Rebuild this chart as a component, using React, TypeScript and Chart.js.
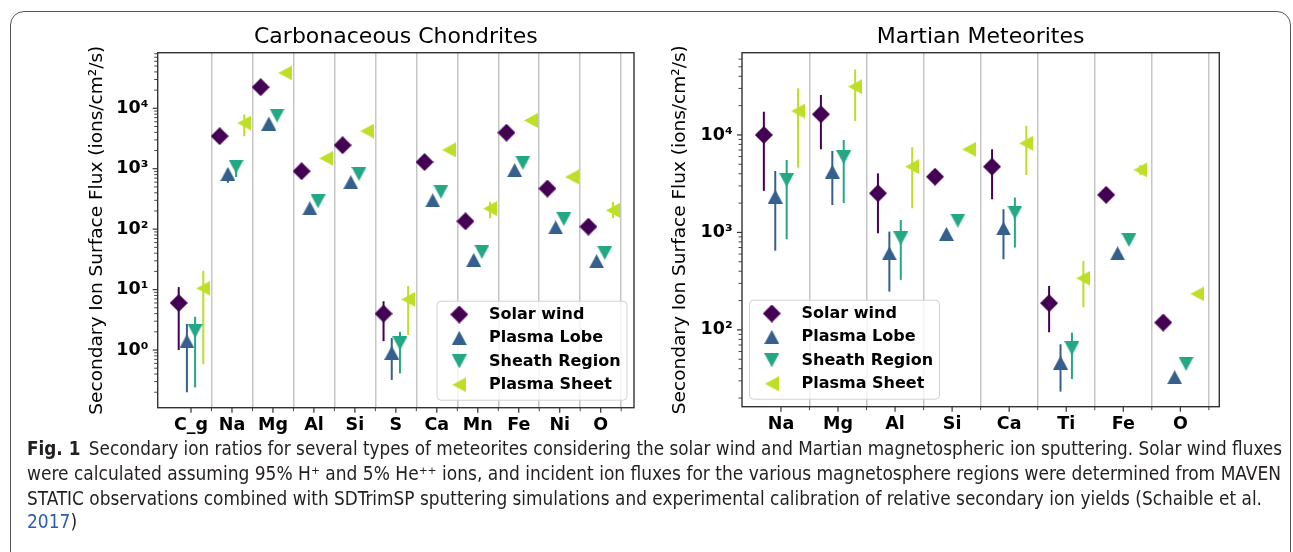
import React, { useEffect, useLayoutEffect, useRef } from 'react';
import { Chart, registerables } from 'chart.js';

Chart.register(...registerables);

// ---------------- DATA ----------------
const SERIES_NAMES = ['Solar wind', 'Plasma Lobe', 'Sheath Region', 'Plasma Sheet'];
const SERIES_COLORS = ['#440154', '#35608d', '#22a884', '#bddf26'];
const SERIES_MARKERS = ['diamond', 'up', 'down', 'left'];
const SERIES_OFFSETS = [-0.3, -0.1, 0.1, 0.3];

// Carbonaceous Chondrites
const ccCategories = ['C_g', 'Na', 'Mg', 'Al', 'Si', 'S', 'Ca', 'Mn', 'Fe', 'Ni', 'O'];
const ccSolarWind = [6.0, 3460, 22400, 910, 2450, 4.0, 1290, 135, 3950, 470, 110];
const ccPlasmaLobe = [1.4, 820, 5600, 222, 600, 0.9, 300, 31, 950, 107, 29.5];
const ccSheathRegion = [2.06, 1080, 7600, 290, 820, 1.29, 416, 42, 1250, 147, 40.5];
const ccPlasmaSheet = [10.5, 5700, 38500, 1490, 4200, 6.9, 2050, 219, 6300, 730, 205];
const ccSolarWindErr = [[1.0, 11], null, null, null, null, [1.4, 6.4], null, null, null, null, null];
const ccPlasmaLobeErr = [[0.2, 2.7], [585, 1000], null, null, null, [0.32, 1.58], null, [24.5, 36], null, null, null];
const ccSheathRegionErr = [[0.24, 3.55], [730, 1380], null, null, null, [0.41, 2.0], null, null, null, null, null];
const ccPlasmaSheetErr = [[0.58, 20.5], [3460, 7900], null, null, null, [1.77, 11.5], null, [152, 283], null, null, [152, 283]];
const ccYTickValues = [1, 10, 100, 1000, 10000];
const ccYTickLabels = ['10⁰', '10¹', '10²', '10³', '10⁴'];

// Martian Meteorites
const mmCategories = ['Na', 'Mg', 'Al', 'Si', 'Ca', 'Ti', 'Fe', 'O'];
const mmSolarWind = [10000, 16300, 2520, 3730, 4730, 188, 2430, 119];
const mmPlasmaLobe = [2330, 4200, 611, 966, 1100, 46.2, 611, 32.7];
const mmSheathRegion = [3450, 5900, 871, 1320, 1600, 64.9, 837, 44.8];
const mmPlasmaSheet = [17600, 31300, 4730, 7130, 8220, 339, 4380, 234];
const mmSolarWindErr = [[2670, 17300], [7130, 25700], [980, 4040], null, [2190, 7130], [94.6, 282], null, null];
const mmPlasmaLobeErr = [[650, 4270], [1910, 6850], [247, 1020], null, [531, 1730], [23.3, 71.3], null, null];
const mmSheathRegionErr = [[850, 5540], [2000, 8880], [326, 1340], null, [700, 2280], [31.4, 93.8], null, null];
const mmPlasmaSheetErr = [[4620, 30100], [13900, 47000], [1770, 7480], null, [3890, 12400], [171, 510], [3900, 4900], null];
const mmYTickValues = [100, 1000, 10000];
const mmYTickLabels = ['10²', '10³', '10⁴'];

const Y_TITLE = 'Secondary Ion Surface Flux (ions/cm²/s)';

const CAPTION_LINES = [
  'Secondary ion ratios for several types of meteorites considering the solar wind and Martian magnetospheric ion sputtering. Solar wind fluxes',
  'were calculated assuming 95% H⁺ and 5% He⁺⁺ ions, and incident ion fluxes for the various magnetosphere regions were determined from MAVEN',
  'STATIC observations combined with SDTrimSP sputtering simulations and experimental calibration of relative secondary ion yields (Schaible et al.',
  '2017)',
];

// ---------------- STYLE ----------------
const FONT = "'DejaVu Sans', sans-serif";
const SPINE = '#333333';

function makeMarker(kind: string, color: string) {
  const c = document.createElement('canvas');
  let w = 18, h = 18;
  let pts: number[][] = [];
  if (kind === 'diamond') { w = 18; h = 18; pts = [[9, 0], [18, 9], [9, 18], [0, 9]]; }
  else if (kind === 'up') { w = 15; h = 14; pts = [[7.5, 0], [15, 14], [0, 14]]; }
  else if (kind === 'down') { w = 15; h = 14; pts = [[0, 0], [15, 0], [7.5, 14]]; }
  else { w = 14; h = 15; pts = [[0, 7.5], [14, 0], [14, 15]]; }
  c.width = w; c.height = h;
  const ctx = c.getContext('2d')!;
  ctx.fillStyle = color;
  ctx.beginPath();
  pts.forEach(([x, y], i) => (i ? ctx.lineTo(x, y) : ctx.moveTo(x, y)));
  ctx.closePath();
  ctx.fill();
  return c;
}

function isPow10(v: number) {
  const l = Math.log10(v);
  return Math.abs(l - Math.round(l)) < 1e-9;
}

function logTicks(min: number, max: number) {
  const out: any[] = [];
  for (let k = Math.floor(Math.log10(min)); k <= Math.ceil(Math.log10(max)); k++) {
    for (let m = 1; m <= 9; m++) {
      const v = m * Math.pow(10, k);
      if (v >= min * 0.9999 && v <= max * 1.0001) out.push({ value: v, major: m === 1 });
    }
  }
  return out;
}

const errorBarPlugin = {
  id: 'errorBars',
  beforeDatasetsDraw(chart: any) {
    const { ctx } = chart;
    const y = chart.scales.y;
    chart.data.datasets.forEach((ds: any, i: number) => {
      const meta = chart.getDatasetMeta(i);
      ctx.save();
      ctx.strokeStyle = ds.errColor;
      ctx.lineWidth = 2;
      (ds.errors || []).forEach((e: any, j: number) => {
        if (!e) return;
        const pt = meta.data[j];
        ctx.beginPath();
        ctx.moveTo(pt.x, y.getPixelForValue(e[0]));
        ctx.lineTo(pt.x, y.getPixelForValue(e[1]));
        ctx.stroke();
      });
      ctx.restore();
    });
  },
};

const framePlugin = {
  id: 'frame',
  afterDatasetsDraw(chart: any) {
    const { ctx, chartArea: a } = chart;
    const { x, y } = chart.scales;
    ctx.save();
    ctx.strokeStyle = SPINE;
    y.ticks.forEach((t: any) => {
      const p = y.getPixelForValue(t.value);
      const major = isPow10(t.value);
      ctx.lineWidth = major ? 1.2 : 0.9;
      ctx.beginPath();
      ctx.moveTo(a.left - (major ? 5 : 3.5), p);
      ctx.lineTo(a.left, p);
      ctx.stroke();
    });
    x.ticks.forEach((t: any) => {
      const p = x.getPixelForValue(t.value);
      const major = Number.isInteger(t.value);
      ctx.lineWidth = major ? 1.2 : 0.9;
      ctx.beginPath();
      ctx.moveTo(p, a.bottom);
      ctx.lineTo(p, a.bottom + (major ? 5 : 3.5));
      ctx.stroke();
    });
    ctx.lineWidth = 1.4;
    ctx.strokeRect(a.left, a.top, a.right - a.left, a.bottom - a.top);
    ctx.restore();
  },
};

const insideLegendPlugin = {
  id: 'insideLegend',
  afterDraw(chart: any, _args: any, opts: any) {
    const { ctx, chartArea: a } = chart;
    const W = 190, H = 99;
    const left = opts.corner === 'right' ? a.right - 7 - W : a.left + 7.5;
    const top = a.bottom - 7.5 - H;
    ctx.save();
    const r = 4;
    ctx.beginPath();
    ctx.moveTo(left + r, top);
    ctx.lineTo(left + W - r, top);
    ctx.arcTo(left + W, top, left + W, top + r, r);
    ctx.lineTo(left + W, top + H - r);
    ctx.arcTo(left + W, top + H, left + W - r, top + H, r);
    ctx.lineTo(left + r, top + H);
    ctx.arcTo(left, top + H, left, top + H - r, r);
    ctx.lineTo(left, top + r);
    ctx.arcTo(left, top, left + r, top, r);
    ctx.closePath();
    ctx.fillStyle = 'rgba(255,255,255,0.8)';
    ctx.fill();
    ctx.strokeStyle = 'rgba(204,204,204,0.9)';
    ctx.lineWidth = 1;
    ctx.stroke();
    ctx.font = `bold 16px ${FONT}`;
    ctx.fillStyle = '#000';
    ctx.textBaseline = 'middle';
    ctx.textAlign = 'left';
    chart.data.datasets.forEach((ds: any, i: number) => {
      const cy = top + 13.3 + i * 23.43;
      const img = ds.pointStyle;
      ctx.drawImage(img, left + 22.3 - img.width / 2, cy - img.height / 2);
      ctx.fillText(ds.label, left + 52, cy);
    });
    ctx.restore();
  },
};

function buildConfig(spec: any) {
  const markers = SERIES_COLORS.map((c, i) => makeMarker(SERIES_MARKERS[i], c));
  const datasets = SERIES_NAMES.map((name, si) => ({
    label: name,
    data: spec.categories.map((_: string, ci: number) => ({ x: ci + SERIES_OFFSETS[si], y: spec.series[si][ci] })),
    pointStyle: markers[si],
    pointRadius: 6,
    backgroundColor: SERIES_COLORS[si],
    borderColor: SERIES_COLORS[si],
    errors: spec.errors[si],
    errColor: SERIES_COLORS[si],
    order: 4 - si,
    showLine: false,
  }));
  return {
    type: 'scatter',
    data: { datasets },
    plugins: [errorBarPlugin, framePlugin, insideLegendPlugin],
    options: {
      animation: false,
      responsive: false,
      maintainAspectRatio: false,
      events: [],
      layout: { padding: { left: 0, right: spec.padRight, top: 0, bottom: 0 } },
      plugins: {
        legend: { display: false },
        tooltip: { enabled: false },
        title: {
          display: true,
          text: spec.title,
          fullSize: false,
          color: '#000',
          font: { family: FONT, size: 22, weight: 'normal' },
          padding: { top: 24, bottom: 2.3 },
        },
        insideLegend: { corner: spec.legendCorner },
      },
      scales: {
        x: {
          type: 'linear',
          min: spec.xMin,
          max: spec.xMax,
          afterBuildTicks: (s: any) => {
            const t: any[] = [];
            spec.categories.forEach((_: string, i: number) => {
              t.push({ value: i });
              t.push({ value: i + 0.5 });
            });
            s.ticks = t;
          },
          afterFit: (s: any) => { s.height = spec.xHeight; },
          grid: {
            color: (c: any) => (c.tick && !Number.isInteger(c.tick.value) ? '#c6c6c6' : 'rgba(0,0,0,0)'),
            lineWidth: 1.5,
            drawTicks: false,
          },
          border: { display: false },
          ticks: {
            autoSkip: false,
            maxRotation: 0,
            padding: 7,
            color: '#000',
            font: { family: FONT, size: 17.5, weight: 'bold' },
            callback: (v: number) => (Number.isInteger(v) ? spec.categories[v] : ''),
          },
        },
        y: {
          type: 'logarithmic',
          min: spec.yMin,
          max: spec.yMax,
          afterBuildTicks: (s: any) => { s.ticks = logTicks(spec.yMin, spec.yMax); },
          afterFit: (s: any) => { s.width = spec.yWidth; },
          grid: { display: false, drawTicks: false },
          border: { display: false },
          title: {
            display: true,
            text: Y_TITLE,
            color: '#000',
            font: { family: FONT, size: 18.5, weight: 'normal' },
            padding: { top: spec.yTitlePad, bottom: 0 },
          },
          ticks: {
            autoSkip: false,
            padding: 9.4,
            color: '#000',
            font: { family: FONT, size: 17.5, weight: 'bold' },
            callback: (v: number) => {
              const idx = spec.yTickValues.findIndex((t: number) => Math.abs(t - v) / t < 1e-6);
              return idx >= 0 ? spec.yTickLabels[idx] : '';
            },
          },
        },
      },
    },
  };
}

const leftSpec = {
  categories: ccCategories,
  series: [ccSolarWind, ccPlasmaLobe, ccSheathRegion, ccPlasmaSheet],
  errors: [ccSolarWindErr, ccPlasmaLobeErr, ccSheathRegionErr, ccPlasmaSheetErr],
  yTickValues: ccYTickValues,
  yTickLabels: ccYTickLabels,
  title: 'Carbonaceous Chondrites',
  yMin: 0.111,
  yMax: 83200,
  xMin: -0.813,
  xMax: 10.813,
  yWidth: 157.7,
  xHeight: 37.3,
  padRight: 26,
  yTitlePad: 86.4,
  legendCorner: 'right',
};

const rightSpec = {
  categories: mmCategories,
  series: [mmSolarWind, mmPlasmaLobe, mmSheathRegion, mmPlasmaSheet],
  errors: [mmSolarWindErr, mmPlasmaLobeErr, mmSheathRegionErr, mmPlasmaSheetErr],
  yTickValues: mmYTickValues,
  yTickLabels: mmYTickLabels,
  title: 'Martian Meteorites',
  yMin: 16.3,
  yMax: 69800,
  xMin: -0.683,
  xMax: 7.683,
  yWidth: 82,
  xHeight: 38.3,
  padRight: 73.7,
  yTitlePad: 8.9,
  legendCorner: 'left',
};

function ChartPanel({ spec, left, top, width, height }: any) {
  const ref = useRef<HTMLCanvasElement | null>(null);
  useEffect(() => {
    if (!ref.current) return;
    const chart = new Chart(ref.current, buildConfig(spec) as any);
    return () => chart.destroy();
  }, [spec]);
  return (
    <canvas
      ref={ref}
      width={width}
      height={height}
      style={{ position: 'absolute', left, top, width, height }}
    />
  );
}

const CAPTION_TARGET_WIDTHS = [1255, 1254, 1235, 0];
const CAPTION_CENTERS = [448, 473, 497.5, 521];

function Caption() {
  const refs = useRef<(HTMLSpanElement | null)[]>([]);
  useLayoutEffect(() => {
    refs.current.forEach((el, i) => {
      if (!el || !CAPTION_TARGET_WIDTHS[i]) return;
      const w = el.getBoundingClientRect().width;
      if (w > 0) el.style.transform = `scaleX(${CAPTION_TARGET_WIDTHS[i] / w})`;
    });
  }, []);
  const lineStyle = (i: number): React.CSSProperties => ({
    position: 'absolute',
    left: 27,
    top: CAPTION_CENTERS[i] - 12,
    height: 24,
    lineHeight: '24px',
    whiteSpace: 'nowrap',
    fontFamily: "'DejaVu Sans Condensed', 'Liberation Sans Narrow', sans-serif",
    fontSize: 19,
    color: '#231f20',
  });
  const spanStyle: React.CSSProperties = { display: 'inline-block', transformOrigin: 'left center' };
  return (
    <>
      <div style={lineStyle(0)}>
        <span ref={(el) => { refs.current[0] = el; }} style={spanStyle}>
          <b>Fig. 1</b>{'\u2002'}{CAPTION_LINES[0]}
        </span>
      </div>
      <div style={lineStyle(1)}>
        <span ref={(el) => { refs.current[1] = el; }} style={spanStyle}>
          {CAPTION_LINES[1]}
        </span>
      </div>
      <div style={lineStyle(2)}>
        <span ref={(el) => { refs.current[2] = el; }} style={spanStyle}>
          {CAPTION_LINES[2]}
        </span>
      </div>
      <div style={lineStyle(3)}>
        <span style={{ ...spanStyle, color: '#2a5db0' }}>{CAPTION_LINES[3].slice(0, 4)}</span>
        <span style={spanStyle}>{CAPTION_LINES[3].slice(4)}</span>
      </div>
    </>
  );
}

export default function App() {
  return (
    <div
      style={{
        position: 'absolute',
        left: 0,
        top: 0,
        width: 1293,
        height: 552,
        overflow: 'hidden',
        background: '#fff',
      }}
    >
      <div
        style={{
          position: 'absolute',
          left: 10,
          top: 11,
          width: 1281,
          height: 620,
          border: '1.5px solid #555',
          borderRadius: 14,
          boxSizing: 'border-box',
        }}
      />
      <ChartPanel spec={leftSpec} left={0} top={0} width={660} height={445} />
      <ChartPanel spec={rightSpec} left={660} top={0} width={633} height={445} />
      <Caption />
    </div>
  );
}
